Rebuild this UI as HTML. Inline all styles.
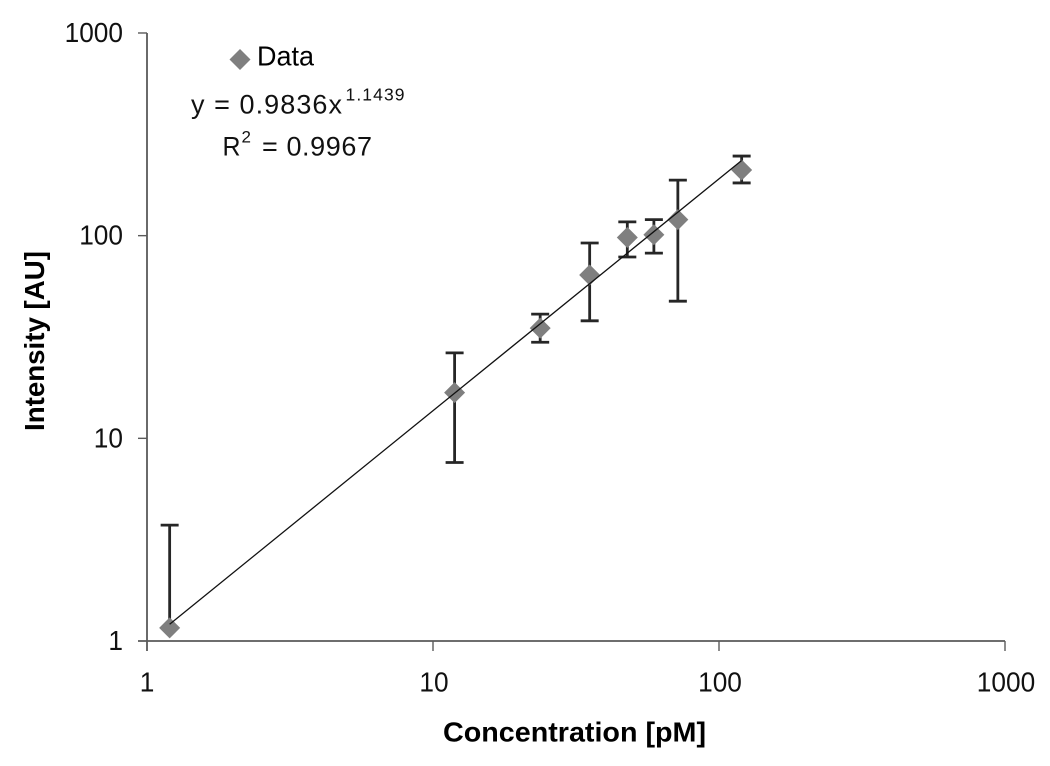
<!DOCTYPE html>
<html>
<head>
<meta charset="utf-8">
<style>
html,body{margin:0;padding:0;background:#fff;}
svg{display:block;font-family:"Liberation Sans",sans-serif;filter:blur(0.35px);}
</style>
</head>
<body>
<svg id="chart" width="1050" height="766" viewBox="0 0 1050 766" xmlns="http://www.w3.org/2000/svg">
  <rect width="1050" height="766" fill="#fff"/>
  <g id="grid-layer"></g>
  <g id="mark-layer"></g>
  <text transform="translate(44,341) rotate(-90)" text-anchor="middle" font-size="28" font-weight="bold" fill="#000" textLength="180" lengthAdjust="spacingAndGlyphs">Intensity [AU]</text>
  <text x="574.5" y="741.5" text-anchor="middle" font-size="28" font-weight="bold" fill="#000" textLength="263" lengthAdjust="spacingAndGlyphs">Concentration [pM]</text>
  <path d="M240 49L250.5 59.5L240 70L229.5 59.5Z" fill="#7f7f7f"/>
  <text x="257" y="65.5" font-size="28" fill="#000" textLength="57" lengthAdjust="spacingAndGlyphs">Data</text>
  <text x="191" y="113.5" font-size="27" fill="#111" textLength="151" lengthAdjust="spacing">y = 0.9836x</text>
  <text x="345.5" y="100.5" font-size="17.5" fill="#111" textLength="59" lengthAdjust="spacing">1.1439</text>
  <text x="222.5" y="155.5" font-size="27" fill="#111" textLength="18" lengthAdjust="spacingAndGlyphs">R</text>
  <text x="241.5" y="142.5" font-size="17" fill="#111">2</text>
  <text x="262" y="155.5" font-size="27" fill="#111" textLength="110" lengthAdjust="spacing">= 0.9967</text>
</svg>
<script>
const xTicks = [1, 10, 100, 1000];
const yTicks = [1, 10, 100, 1000];
const concentration = [1.2, 11.9, 23.7, 35.3, 47.8, 59.2, 71.8, 120];
const intensity = [1.16, 16.8, 35, 64, 98, 101, 120, 211];
const errorUpper = [3.73, 26.4, 41, 92, 117, 120, 188, 247];
const errorLower = [1.16, 7.6, 29.8, 38, 78.5, 82, 47.5, 182];
const trendX = [1.2, 120];
const trendY = [1.21, 235];

const NS = 'http://www.w3.org/2000/svg';
const X0 = 147, XDEC = 286, Y0 = 641, YDEC = 202.67;
function xScale(v) { return X0 + Math.log10(v) * XDEC; }
function yScale(v) { return Y0 - Math.log10(v) * YDEC; }
function make(parent, tag, attrs) {
  const el = document.createElementNS(NS, tag);
  for (const k in attrs) el.setAttribute(k, attrs[k]);
  parent.appendChild(el);
  return el;
}
const axes = document.getElementById('grid-layer');
const marks = document.getElementById('mark-layer');
const axisColor = '#5a5a5a';

const xLine = make(axes, 'line', {x1: 138, y1: Y0, x2: xScale(1000), y2: Y0, stroke: axisColor, 'stroke-width': 1.8});


const yLine = make(axes, 'line', {x1: X0, y1: yScale(1000), x2: X0, y2: 651, stroke: axisColor, 'stroke-width': 1.8});



xTicks.forEach(function (t) {
  const px = xScale(t);
  if (t !== 1) {
    const tick = make(axes, 'line', {x1: px, y1: Y0, x2: px, y2: 651, stroke: axisColor, 'stroke-width': 1.4});
    
    
  }
  const text = String(t);
  const label = make(axes, 'text', {x: px + (t === 1 ? 0 : 1), y: 691.5, 'text-anchor': 'middle', 'font-size': 28, fill: '#111', textLength: text.length * 14.6, lengthAdjust: 'spacingAndGlyphs'});
  label.textContent = text;
  
  
});
yTicks.forEach(function (t) {
  const py = yScale(t);
  if (t !== 1) {
    const tick = make(axes, 'line', {x1: 138, y1: py, x2: X0, y2: py, stroke: axisColor, 'stroke-width': 1.4});
    
    
  }
  const text = String(t);
  const label = make(axes, 'text', {x: 123, y: py + 9, 'text-anchor': 'end', 'font-size': 28, fill: '#111', textLength: text.length * 14.6, lengthAdjust: 'spacingAndGlyphs'});
  label.textContent = text;
  
  
});

concentration.forEach(function (c, i) {
  const px = xScale(c);
  const top = yScale(errorUpper[i]);
  const bottom = yScale(errorLower[i]);
  const stem = make(marks, 'line', {x1: px, y1: top, x2: px, y2: bottom, stroke: '#262626', 'stroke-width': 2.8});
  
  
  const capTop = make(marks, 'line', {x1: px - 9, y1: top, x2: px + 9, y2: top, stroke: '#262626', 'stroke-width': 2.8});
  
  
  if (errorLower[i] < intensity[i]) {
    const capBottom = make(marks, 'line', {x1: px - 9, y1: bottom, x2: px + 9, y2: bottom, stroke: '#262626', 'stroke-width': 2.8});
    
    
  }
});
concentration.forEach(function (c, i) {
  const px = xScale(c);
  const py = yScale(intensity[i]);
  const r = 10.5;
  const point = make(marks, 'path', {d: 'M' + px + ' ' + (py - r) + 'L' + (px + r) + ' ' + py + 'L' + px + ' ' + (py + r) + 'L' + (px - r) + ' ' + py + 'Z', fill: '#7f7f7f'});
  
  
});
const trend = make(marks, 'line', {x1: xScale(trendX[0]), y1: yScale(trendY[0]), x2: xScale(trendX[1]), y2: yScale(trendY[1]), stroke: '#111', 'stroke-width': 1.3});


</script>
</body>
</html>
